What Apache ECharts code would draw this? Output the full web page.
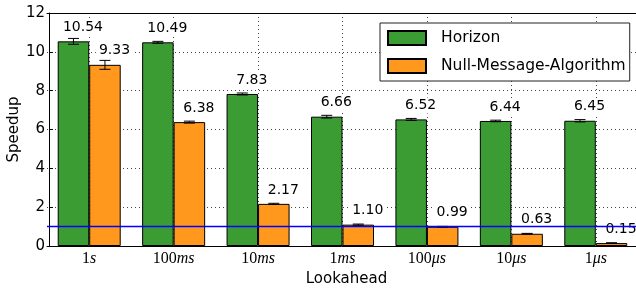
<!DOCTYPE html>
<html>
<head>
<meta charset="utf-8">
<script src="https://cdn.jsdelivr.net/npm/echarts@6/dist/echarts.min.js"></script>
<style>
  html, body { margin: 0; padding: 0; background: #fff; }
  #chart { width: 636px; height: 291px; }
</style>
</head>
<body>
<div id="chart"></div>
<script>
// lookahead values on the x axis
const categories = ["1s", "100ms", "10ms", "1ms", "100μs", "10μs", "1μs"];
// mean speedups and their error bars
const horizon = [10.54, 10.49, 7.83, 6.66, 6.52, 6.44, 6.45];
const horizonErr = [0.15, 0.05, 0.05, 0.07, 0.05, 0.04, 0.06];
const nullMessage = [9.33, 6.38, 2.17, 1.10, 0.99, 0.63, 0.15];
const nullMessageErr = [0.23, 0.05, 0.03, 0.03, 0.02, 0.02, 0.02];
const yTicks = { min: 0, max: 12, interval: 2 };
const baseline = 1;

const FONT = "DejaVu Sans";
const BAR_W = 31.5;
const GREEN = "#3b9c34";
const ORANGE = "#ff981d";

const rows = categories.map((c, i) => [i, horizon[i], horizonErr[i], nullMessage[i], nullMessageErr[i]]);

// error bars + value labels (white boxed text), drawn on top
function renderErr(params, api) {
  const idx = api.value(0);
  const children = [];
  const sets = [
    { v: api.value(1), e: api.value(2), dx: -BAR_W / 2 },
    { v: api.value(3), e: api.value(4), dx: BAR_W / 2 },
  ];
  sets.forEach((s) => {
    const top = api.coord([idx, s.v + s.e]);
    const bot = api.coord([idx, s.v - s.e]);
    const bar = api.coord([idx, s.v]);
    const x = bar[0] + s.dx;
    const st = { stroke: "#000", lineWidth: 1 };
    children.push({ type: "line", shape: { x1: x, y1: top[1], x2: x, y2: bot[1] }, style: st });
    children.push({ type: "line", shape: { x1: x - 5.5, y1: top[1], x2: x + 5.5, y2: top[1] }, style: st });
    children.push({ type: "line", shape: { x1: x - 5.5, y1: bot[1], x2: x + 5.5, y2: bot[1] }, style: st });
    children.push({
      type: "text",
      z2: 10,
      style: {
        text: s.v.toFixed(2),
        x: x + 9.5,
        y: bar[1] - 6,
        align: "center",
        verticalAlign: "bottom",
        font: "14px " + FONT,
        fill: "#000",
        backgroundColor: "#fff",
        padding: [1, 3, 1, 3],
      },
    });
  });
  return { type: "group", children: children };
}

const chart = echarts.init(document.getElementById("chart"));
chart.setOption({
  animation: false,
  backgroundColor: "#fff",
  textStyle: { fontFamily: FONT },
  grid: { left: 47, right: -2, top: 13, bottom: 45, containLabel: false, outerBoundsMode: "none" },
  legend: {
    orient: "vertical",
    left: 380,
    top: 23,
    padding: [7, 4, 7, 7],
    itemGap: 12,
    itemWidth: 38,
    itemHeight: 14,
    backgroundColor: "#fff",
    borderColor: "#222",
    borderWidth: 1,
    borderRadius: 0,
    icon: "rect",
    textStyle: { fontFamily: FONT, fontSize: 15.5, color: "#000", padding: [0, 0, 0, 10] },
    data: ["Horizon", "Null-Message-Algorithm"],
    z: 20,
  },
  xAxis: [
    {
      type: "category",
      data: categories,
      position: "bottom",
      name: "Lookahead",
      nameLocation: "middle",
      nameGap: 26,
      nameMoveOverlap: false,
      nameTextStyle: { fontFamily: FONT, fontSize: 15, color: "#000", padding: [0, 0, 0, 8] },
      axisLine: { lineStyle: { color: "#000", width: 1 } },
      axisTick: { inside: true, alignWithLabel: true, interval: 0, length: 4, lineStyle: { color: "#000" } },
      axisLabel: {
        interval: 0,
        margin: 5,
        color: "#000",
        formatter: (v) => {
          const m = v.match(/^(\d+)(.*)$/);
          return "{n|" + m[1] + "}{u|" + m[2] + "}";
        },
        rich: {
          n: { fontFamily: "Liberation Serif", fontSize: 16, color: "#000" },
          u: { fontFamily: "Liberation Serif", fontStyle: "italic", fontSize: 16, color: "#000" },
        },
      },
      splitLine: { show: false },
    },
    {
      type: "category",
      data: categories,
      position: "top",
      axisLine: { lineStyle: { color: "#000", width: 1 } },
      axisTick: { inside: true, alignWithLabel: true, interval: 0, length: 4, lineStyle: { color: "#000" } },
      axisLabel: { show: false, interval: 0 },
      splitLine: { show: true, interval: 0, alignWithLabel: true, lineStyle: { color: "#444", type: [1, 3], width: 1 } },
    },
  ],
  yAxis: {
    type: "value",
    min: yTicks.min,
    max: yTicks.max,
    interval: yTicks.interval,
    offset: -2,
    name: "Speedup",
    nameLocation: "middle",
    nameGap: 27,
    nameMoveOverlap: false,
    nameTextStyle: { fontFamily: FONT, fontSize: 15, color: "#000" },
    axisLine: { show: true, lineStyle: { color: "#000", width: 1 } },
    axisTick: { show: true, inside: true, length: 4, lineStyle: { color: "#000" } },
    axisLabel: { fontFamily: FONT, fontSize: 15, color: "#000", margin: 4 },
    splitLine: { show: true, lineStyle: { color: "#444", type: [1, 3], width: 1 } },
  },
  series: [
    {
      name: "Horizon",
      type: "bar",
      data: horizon,
      barWidth: BAR_W,
      barGap: "0%",
      itemStyle: { color: GREEN, borderColor: "#000", borderWidth: 1 },
      z: 2,
    },
    {
      name: "Null-Message-Algorithm",
      type: "bar",
      data: nullMessage,
      barWidth: BAR_W,
      barGap: "0%",
      itemStyle: { color: ORANGE, borderColor: "#000", borderWidth: 1 },
      z: 2,
    },
    {
      // blue reference line at speedup 1
      type: "line",
      data: [],
      z: 3,
      markLine: {
        silent: true,
        symbol: "none",
        label: { show: false },
        lineStyle: { color: "#0000ff", type: "solid", width: 1.3 },
        data: [{ yAxis: baseline }],
      },
    },
    {
      type: "custom",
      data: rows,
      encode: { x: 0, y: 1 },
      renderItem: renderErr,
      z: 4,
    },
  ],
});
</script>
</body>
</html>
